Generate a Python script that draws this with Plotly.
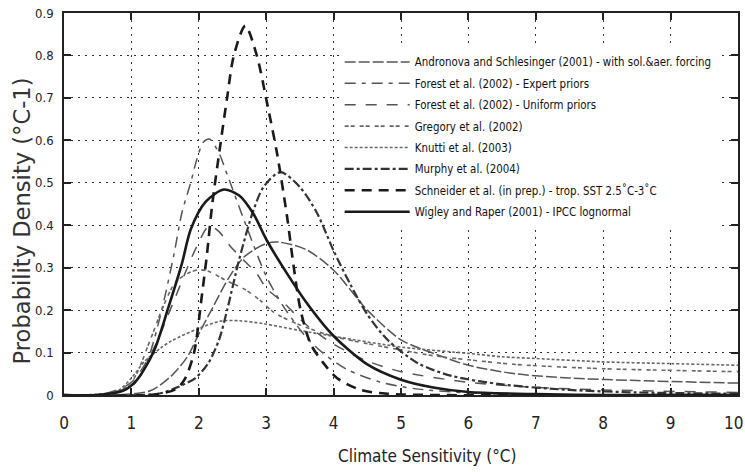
import plotly.graph_objects as go

# ---------------- data ----------------
andronova_x = [0, 0.8, 1.28, 1.58, 1.83, 2.02, 2.22, 2.44, 2.67, 3.0, 3.2, 3.6, 4.0, 4.5, 5.0, 5.5, 6.0, 6.7, 7.5, 8.5, 10]
andronova_y = [0, 0.0, 0.01, 0.043, 0.09, 0.15, 0.21, 0.275, 0.325, 0.357, 0.36, 0.342, 0.294, 0.2, 0.13, 0.097, 0.07, 0.05, 0.04, 0.034, 0.028]

forest_exp_x = [0, 0.6, 1.0, 1.15, 1.28, 1.45, 1.63, 1.75, 1.88, 1.97, 2.07, 2.16, 2.3, 2.42, 2.7, 3.0, 3.25, 3.6, 3.85, 4.2, 4.7, 5.2, 6.0, 7.0, 10]
forest_exp_y = [0, 0.003, 0.02, 0.05, 0.1, 0.2, 0.33, 0.43, 0.5, 0.555, 0.596, 0.603, 0.57, 0.52, 0.4, 0.28, 0.21, 0.135, 0.098, 0.06, 0.03, 0.015, 0.005, 0.001, 0]

forest_uni_x = [0, 0.6, 1.0, 1.3, 1.6, 1.83, 1.97, 2.15, 2.3, 2.47, 2.67, 2.86, 3.01, 3.24, 3.6, 4.0, 4.5, 5.0, 6.0, 7.0, 8.0, 10]
forest_uni_y = [0, 0.003, 0.03, 0.1, 0.21, 0.3, 0.35, 0.398, 0.385, 0.35, 0.317, 0.286, 0.25, 0.22, 0.165, 0.12, 0.08, 0.055, 0.03, 0.018, 0.012, 0.006]

gregory_x = [0, 0.7, 1.0, 1.28, 1.45, 1.65, 1.83, 2.0, 2.17, 2.4, 2.67, 2.91, 3.11, 3.5, 4.0, 4.5, 5.0, 5.5, 6.0, 6.7, 8.0, 10]
gregory_y = [0, 0.003, 0.03, 0.13, 0.2, 0.265, 0.286, 0.295, 0.29, 0.27, 0.25, 0.223, 0.195, 0.165, 0.138, 0.121, 0.106, 0.092, 0.083, 0.072, 0.062, 0.055]

knutti_x = [0, 0.5, 0.8, 1.0, 1.2, 1.43, 1.6, 2.0, 2.32, 2.6, 2.96, 3.5, 4.05, 5.0, 6.0, 6.5, 7.0, 8.0, 9.0, 10]
knutti_y = [0, 0.002, 0.01, 0.04, 0.08, 0.11, 0.128, 0.157, 0.174, 0.175, 0.168, 0.152, 0.137, 0.113, 0.098, 0.09, 0.086, 0.078, 0.074, 0.07]

murphy_x = [0, 1.4, 1.68, 1.95, 2.14, 2.30, 2.42, 2.6, 2.81, 2.96, 3.21, 3.5, 3.75, 4.0, 4.25, 4.5, 4.8, 5.25, 5.75, 6.5, 7.5, 8.5, 10]
murphy_y = [0, 0.003, 0.018, 0.04, 0.075, 0.13, 0.2, 0.32, 0.435, 0.49, 0.525, 0.49, 0.43, 0.34, 0.26, 0.19, 0.13, 0.075, 0.045, 0.025, 0.012, 0.006, 0.003]

schneider_x = [0, 1.4, 1.68, 1.8, 1.93, 2.05, 2.12, 2.2, 2.32, 2.42, 2.52, 2.69, 2.86, 3.01, 3.16, 3.31, 3.41, 3.51, 3.66, 3.85, 4.05, 4.4, 4.8, 5.5, 10]
schneider_y = [0, 0.002, 0.016, 0.04, 0.1, 0.24, 0.33, 0.45, 0.59, 0.7, 0.8, 0.87, 0.8, 0.69, 0.57, 0.42, 0.30, 0.2, 0.12, 0.075, 0.04, 0.012, 0.003, 0, 0]

wigley_x = [0, 0.5, 0.89, 1.08, 1.33, 1.55, 1.75, 1.88, 2.1, 2.37, 2.6, 2.81, 3.01, 3.31, 3.61, 4.0, 4.5, 5.0, 5.5, 6.0, 7.0, 8.0, 10.0]
wigley_y = [0, 0.0, 0.011, 0.035, 0.102, 0.207, 0.31, 0.39, 0.455, 0.484, 0.47, 0.427, 0.364, 0.286, 0.215, 0.139, 0.072, 0.036, 0.017, 0.007, 0.002, 0.0, 0.0]

names = [
    "Andronova and Schlesinger (2001) - with sol.&aer. forcing",
    "Forest et al. (2002) - Expert priors",
    "Forest et al. (2002) - Uniform priors",
    "Gregory et al. (2002)",
    "Knutti et al. (2003)",
    "Murphy et al. (2004)",
    "Schneider et al. (in prep.) - trop. SST 2.5˚C-3˚C",
    "Wigley and Raper (2001) - IPCC lognormal",
]

x_ticks = list(range(0, 11))
x_ticktext = ["0", "1", "2", "3", "4", "5", "6", "7", "8", "9", "10"]
y_ticks = [0, 0.1, 0.2, 0.3, 0.4, 0.5, 0.6, 0.7, 0.8, 0.9]
y_ticktext = ["0", "0.1", "0.2", "0.3", "0.4", "0.5", "0.6", "0.7", "0.8", "0.9"]

# ---------------- styles ----------------
series = [
    (andronova_x, andronova_y, dict(color="#555555", width=1.5, dash="11px,3px")),
    (forest_exp_x, forest_exp_y, dict(color="#555555", width=1.5, dash="11px,6px,4px,6px")),
    (forest_uni_x, forest_uni_y, dict(color="#555555", width=1.5, dash="11px,10px")),
    (gregory_x, gregory_y, dict(color="#666666", width=1.6, dash="4px,2px,4px,5px")),
    (knutti_x, knutti_y, dict(color="#666666", width=1.6, dash="3px,2px")),
    (murphy_x, murphy_y, dict(color="#333333", width=2.2, dash="9px,3px,3px,3px")),
    (schneider_x, schneider_y, dict(color="#1a1a1a", width=2.6, dash="10px,7px")),
    (wigley_x, wigley_y, dict(color="#1a1a1a", width=2.6)),
]

NARROW = "DejaVu Sans Condensed, Liberation Sans Narrow, sans-serif"
XTICK_FONT = dict(family=NARROW, size=17, color="#222")

fig = go.Figure()
for i, (xs, ys, ln) in enumerate(series):
    fig.add_trace(go.Scatter(
        x=xs, y=ys, mode="lines", name=names[i],
        line=dict(shape="spline", smoothing=0.8, **ln),
        legendgroup=f"g{i}",
    ))

axis_common = dict(
    showline=True, linecolor="#222", linewidth=1.6, mirror="ticks",
    ticks="inside", ticklen=7, tickcolor="#222", tickwidth=1.5,
    showgrid=True, gridcolor="#333", gridwidth=1, griddash="2px,5px",
    zeroline=False, automargin=False,
)

fig.update_layout(
    width=745, height=472,
    margin=dict(l=64, r=7, t=13, b=77, autoexpand=False),
    paper_bgcolor="white", plot_bgcolor="white",
    xaxis=dict(range=[0, 10], tickvals=x_ticks,
               # last label is drawn as an annotation nudged inside the page edge
               ticktext=x_ticktext[:-1] + [""],
               tickfont=XTICK_FONT, ticklabelstandoff=12, **axis_common),
    yaxis=dict(range=[0, 0.9], tickvals=y_ticks, ticktext=y_ticktext,
               tickfont=dict(family=NARROW, size=13, color="#222"),
               ticklabelstandoff=6, **axis_common),
    legend=dict(
        x=0.409, y=0.91, xanchor="left", yanchor="top",
        bgcolor="white", borderwidth=0,
        font=dict(family=NARROW, size=11.4, color="#111"),
        itemwidth=65, tracegroupgap=2.4,
    ),
    showlegend=True,
    annotations=[
        dict(text=x_ticktext[-1], xref="x", yref="paper", x=x_ticks[-1], y=-0.074,
             xshift=-5, showarrow=False, xanchor="center", yanchor="middle",
             font=XTICK_FONT),
        dict(text="Probability Density (°C-1)", xref="paper", yref="paper",
             x=-0.062, y=0.455, textangle=-90, showarrow=False,
             xanchor="center", yanchor="middle",
             font=dict(family="DejaVu Sans", size=22.6, color="#333")),
        dict(text="Climate Sensitivity (°C)", xref="paper", yref="paper",
             x=0.539, y=-0.16, showarrow=False, xanchor="center", yanchor="middle",
             font=dict(family=NARROW, size=17, color="#222")),
    ],
)

fig.write_html("out.html")
